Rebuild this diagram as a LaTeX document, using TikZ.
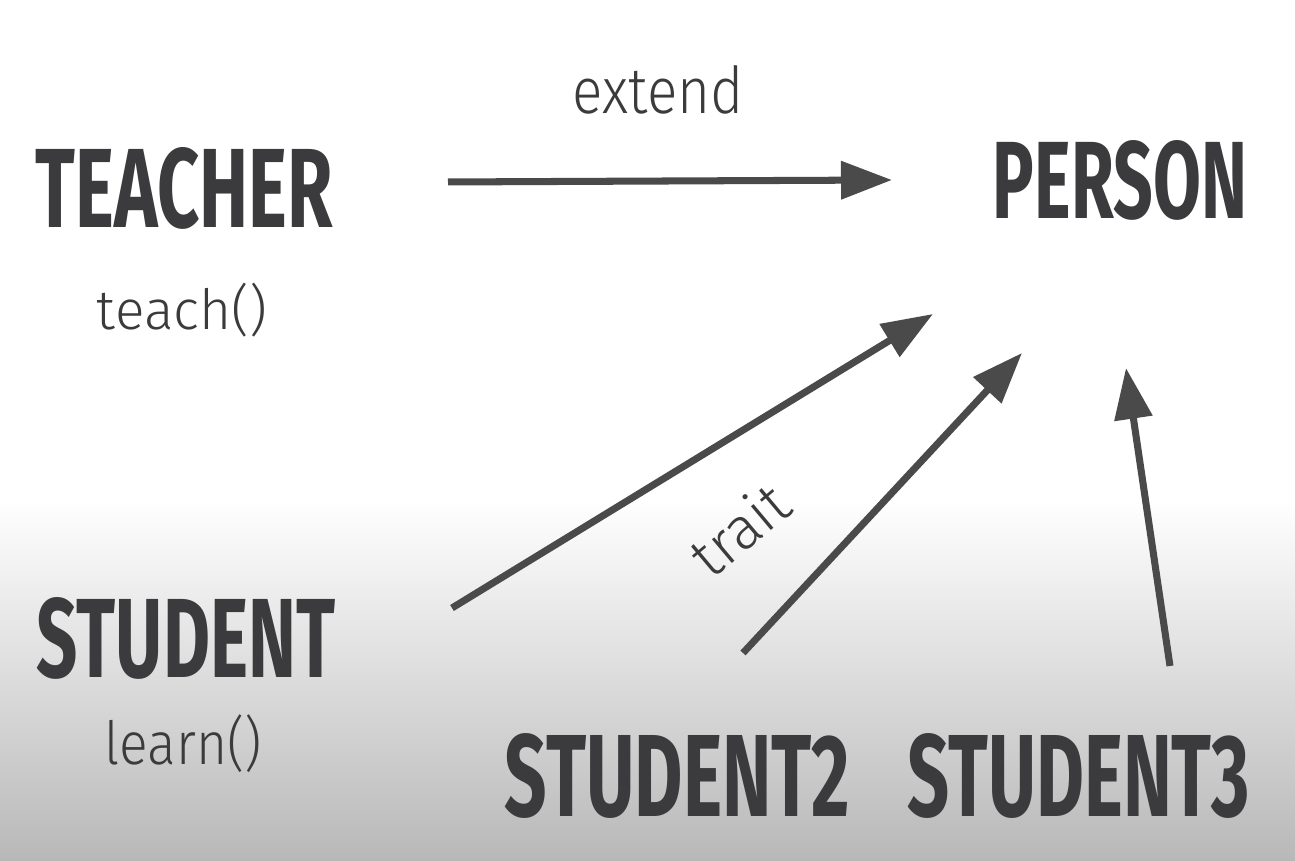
\documentclass[tikz,border=0pt]{standalone}
\usepackage{fontspec}
\setmainfont{Fira Sans}
\newfontfamily\thinfont{Fira Sans Light}
\usetikzlibrary{arrows.meta}
\definecolor{txtgray}{HTML}{3B3B3D}
\definecolor{arrgray}{HTML}{4A4A4A}
\definecolor{floorgray}{HTML}{B8B8B8}
\newcommand{\headtxt}[3]{\resizebox{#1}{#2}{\bfseries #3}}
\newcommand{\thintxt}[3]{\resizebox*{#1}{#2}{\thinfont #3}}
\tikzset{
  cls/.style={inner sep=0pt,text=txtgray},
  meth/.style={inner sep=0pt,text=txtgray},
  inh/.style={draw=arrgray,line width=2pt,-{Triangle[length=5.1mm,width=3.7mm]}}
}

\begin{document}
\begin{tikzpicture}
				\useasboundingbox (0,0) rectangle (12.95,8.61);
				\fill[white] (0,0) rectangle (12.95,8.61); \shade[top color=white,bottom color=floorgray] (0,0) rectangle (12.95,3.61);
				\node (teacher) [cls] at (1.845,6.73) {\headtxt{2.97cm}{0.80cm}{TEACHER}}; \node (teach) [meth] at (1.82,5.51) {\thintxt{1.70cm}{0.54cm}{teach()}};
				\node (person) [cls] at (11.20,6.81) {\headtxt{2.54cm}{0.78cm}{PERSON}};
				\node (student) [cls] at (1.86,2.23) {\headtxt{2.98cm}{0.80cm}{STUDENT}}; \node (learn) [meth] at (1.835,1.17) {\thintxt{1.57cm}{0.58cm}{learn()}};
				\node (student2) [cls] at (6.775,0.845) {\headtxt{3.45cm}{0.83cm}{STUDENT2}}; \node (student3) [cls] at (10.79,0.845) {\headtxt{3.42cm}{0.83cm}{STUDENT3}};
				\node (extend) [meth] at (6.585,7.71) {\resizebox{1.71cm}{0.48cm}{\thinfont extend}};
				\node (trait) [meth,rotate=40] at (7.39,3.32) {\resizebox{1.08cm}{!}{\thinfont trait}};
				\coordinate (ext s) at (4.48,6.79); \coordinate (ext e) at (8.92,6.81); \draw [inh] (ext s) -- (ext e);
				\coordinate (tr1 s) at (4.52,2.53); \coordinate (tr1 e) at (9.33,5.47); \draw [inh] (tr1 s) -- (tr1 e);
				\coordinate (tr2 s) at (7.43,2.08); \coordinate (tr2 e) at (10.22,5.08); \draw [inh] (tr2 s) -- (tr2 e);
				\coordinate (tr3 s) at (11.70,1.95); \coordinate (tr3 e) at (11.26,4.93); \draw [inh] (tr3 s) -- (tr3 e);
			\end{tikzpicture}
\end{document}
